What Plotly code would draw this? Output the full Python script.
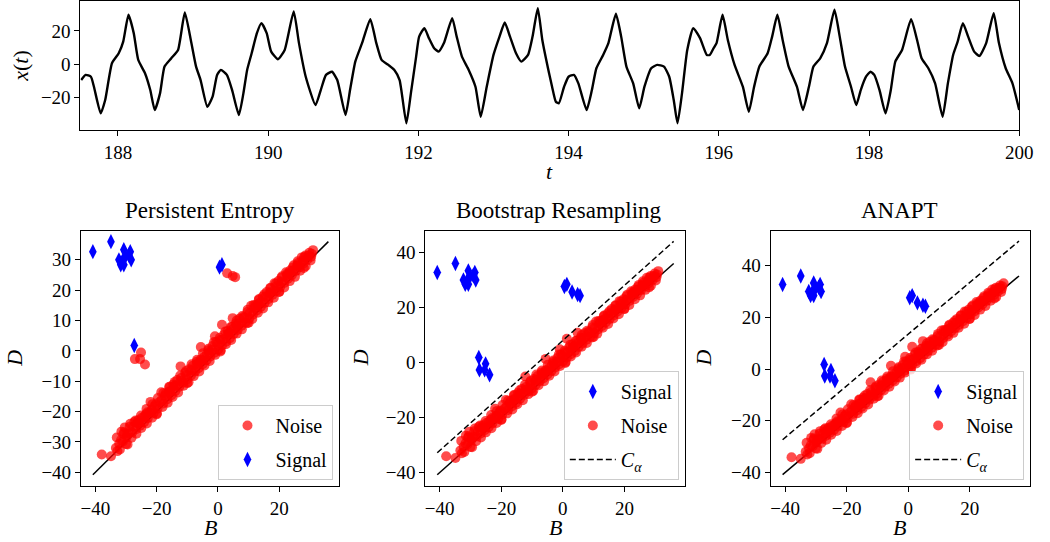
import plotly.graph_objects as go

# ---------------- data ----------------
t_vals = [187.51, 187.57, 187.64, 187.68, 187.77, 187.83, 187.92, 188.01, 188.07, 188.14,
          188.21, 188.27, 188.36, 188.43, 188.49, 188.56, 188.62, 188.71, 188.80, 188.89,
          188.97, 189.04, 189.10, 189.19, 189.26, 189.32, 189.37, 189.45, 189.52, 189.61,
          189.67, 189.72, 189.78, 189.85, 189.91, 189.98, 190.04, 190.13, 190.22, 190.34,
          190.41, 190.50, 190.63, 190.70, 190.77, 190.85, 190.92, 191.03, 191.09, 191.16,
          191.25, 191.36, 191.44, 191.51, 191.60, 191.68, 191.75, 191.84, 191.90, 191.97,
          192.01, 192.08, 192.14, 192.21, 192.27, 192.34, 192.45, 192.51, 192.58, 192.67,
          192.76, 192.83, 192.91, 193.00, 193.08, 193.15, 193.22, 193.30, 193.37, 193.46,
          193.52, 193.59, 193.65, 193.74, 193.78, 193.83, 193.87, 193.94, 194.00, 194.07,
          194.13, 194.24, 194.31, 194.37, 194.46, 194.53, 194.63, 194.70, 194.77, 194.86,
          194.94, 195.01, 195.10, 195.18, 195.27, 195.34, 195.40, 195.45, 195.51, 195.58,
          195.66, 195.75, 195.84, 195.88, 195.93, 195.97, 196.05, 196.12, 196.21, 196.32,
          196.40, 196.47, 196.54, 196.65, 196.71, 196.78, 196.85, 196.93, 197.04, 197.12,
          197.20, 197.26, 197.35, 197.44, 197.54, 197.61, 197.68, 197.76, 197.83, 197.89,
          197.96, 198.02, 198.07, 198.14, 198.22, 198.29, 198.35, 198.44, 198.56, 198.64,
          198.70, 198.79, 198.88, 198.98, 199.05, 199.12, 199.18, 199.25, 199.32, 199.40,
          199.47, 199.56, 199.66, 199.73, 199.82, 199.91, 200.00]
x_vals = [-9.5, -6.4, -7.5, -13.5, -29.5, -21.5, 0.6, 6.6, 13.6, 29.7,
          18.7, 2.6, -5.4, -15.5, -27.5, -17.5, -1.4, 3.6, 8.6, 31.1,
          14.6, -1.4, -9.5, -25.5, -19.5, -6.4, -3.4, -6.4, -15.5, -30.5,
          -17.5, -3.4, 6.6, 18.7, 24.7, 18.7, 7.6, 3.0, 8.6, 31.7,
          12.7, -7.5, -24.5, -15.5, -6.4, -4.5, -9.5, -30.5, -15.5, 1.6,
          12.7, 27.1, 12.7, 2.6, -0.4, -3.4, -9.5, -35.5, -17.5, 4.6,
          16.6, 21.7, 15.7, 9.6, 7.6, 12.7, 27.7, 16.6, 4.6, -3.4,
          -13.5, -31.5, -13.5, 5.6, 16.6, 25.1, 16.6, 6.6, 1.6, 5.6,
          16.6, 33.7, 14.6, -5.4, -13.5, -22.5, -23.5, -13.5, -7.5, -6.4,
          -11.5, -27.5, -15.5, -2.4, 5.6, 12.7, 30.3, 16.6, -1.4, -11.5,
          -26.5, -13.5, -2.4, -0.4, -1.4, -7.5, -21.5, -35.5, -17.5, 8.6,
          21.7, 15.7, 5.6, 5.6, 9.6, 12.7, 29.7, 14.6, -0.4, -13.5,
          -28.5, -13.5, -1.4, 6.6, 16.6, 29.7, 14.6, -1.4, -13.5, -27.5,
          -13.5, -1.4, 3.6, 12.7, 32.7, 16.6, -1.4, -13.5, -24.5, -15.5,
          -7.5, -4.5, -6.4, -15.5, -29.5, -15.5, 1.6, 8.6, 27.1, 14.6,
          3.6, -2.4, -11.5, -31.5, -11.5, 5.6, 13.6, 24.7, 16.6, 7.6,
          5.0, 12.7, 30.7, 12.7, -2.4, -11.5, -27.5]

# signal points (blue diamonds in every panel)
sig_B = [-40.8, -34.9, -32.3, -31.7, -30.7, -30.7, -30.2, -29.1, -28.6, -28.3, -31.2, 0.5, 1.3, -27.3]
sig_D = [32.7, 36.0, 30.0, 28.4, 33.3, 28.4, 31.1, 31.6, 32.7, 30.0, 29.5, 27.6, 28.4, 1.8]
# outliers: noise for Persistent Entropy, signal for the two other methods
extra_B = [3.0, 4.8, 5.6, -27.1, -25.4, -25.1, -23.8]
extra_D = [25.6, 24.7, 24.3, -2.7, -2.7, -0.5, -4.5]
# noise band near the diagonal
noise_B = [-37.9, -34.9, -33.3, -32.8, -33.0, -32.2, -31.5, -31.0, -30.4, -29.8, -29.2, -28.6,
           -28.0, -27.3, -26.7, -26.0, -25.4, -24.8, -24.1, -23.5, -22.9, -22.0, -21.6, -21.0,
           -20.3, -19.7, -18.5, -18.4, -17.8, -17.1, -16.5, -15.8, -15.2, -14.6, -13.9, -13.3,
           -12.2, -12.6, -12.0, -11.4, -10.7, -10.1, -9.4, -8.8, -8.2, -7.5, -6.9, -6.3,
           -5.6, -5.6, -5.0, -4.4, -3.7, -3.1, -2.5, -1.8, -1.0, -1.2, -0.6, 0.1,
           0.7, 1.3, 1.3, 2.0, 2.6, 3.2, 3.9, 4.5, 4.8, 5.1, 5.8, 6.4,
           7.0, 7.7, 8.3, 8.9, 9.6, 10.2, 10.8, 11.4, 12.1, 12.7, 13.3, 14.0,
           14.6, 15.2, 15.9, 16.5, 17.1, 17.8, 18.4, 19.0, 19.7, 20.3, 20.9, 21.6,
           22.2, 22.8, 23.5, 24.1, 24.7, 25.4, 26.0, 26.6, 27.3, 27.9, 28.5, 29.2,
           29.8, 30.4, 31.0, 30.6, -29.5, -20.0, -10.0, 0.8, 10.0, 20.0, 28.0, -26.4,
           -16.0, -6.5, 3.5, 13.0, 23.0, -30.8, -23.0, -14.2, -3.0, 6.0, 16.8, 25.8,
           -32.0, -30.0, -28.2, -26.6, -25.0, -23.2, -21.5, -19.9, -18.1, -16.4, -14.8, -13.0,
           -11.2, -9.6, -7.9, -6.1, -4.4, -2.7, -0.9, 0.9, 2.6, 4.3, 6.1, 7.8,
           9.5, 11.2, 13.0, 14.7, 16.4, 18.2, 19.9, 21.6, 23.4, 25.1, 26.8, 28.6, 30.2,
           -31.6, -29.6, -27.6, -25.8, -24.0, -22.4, -20.7, -19.0, -17.3, -15.6, -13.9, -12.1,
           -10.4, -8.7, -7.0, -5.3, -3.6, -1.9, -0.2, 1.6, 3.3, 5.0, 6.8, 8.5,
           10.3, 12.0, 13.8, 15.5, 17.3, 19.0, 20.8, 22.5, 24.3, 26.0, 27.8, 29.5,
           -30.6, -28.8, -26.9, -25.1, -23.3, -21.4, -19.6, -17.8, -15.9, -14.1, -12.3, -10.4,
           -8.6, -6.8, -4.9, -3.1, -1.3, 0.6, 2.4, 4.2, 6.1, 7.9, 9.7, 11.6,
           13.4, 15.2, 17.1, 18.9, 20.7, 22.6, 24.4, 26.2, 28.1]
noise_D = [-34.1, -34.7, -32.0, -33.0, -28.5, -30.6, -26.6, -29.8, -25.2, -28.4, -27.1, -24.0,
           -26.9, -23.4, -25.8, -22.8, -24.6, -22.0, -23.5, -20.9, -22.2, -16.8, -19.4, -20.5,
           -17.6, -19.0, -13.6, -16.2, -17.3, -14.1, -15.9, -12.0, -14.6, -11.1, -13.2, -9.6,
           -5.1, -11.8, -8.9, -10.5, -7.2, -9.4, -6.0, -8.1, -4.9, -6.8, -3.6, -5.7,
           1.3, -2.8, -4.4, -1.9, -3.1, 0.2, -1.8, 1.6, 4.8, -0.6, 2.9, 0.5,
           3.6, 8.6, 1.8, 5.4, 3.0, 6.6, 4.2, 7.9, 10.8, 5.6, 9.0, 6.9,
           10.6, 8.3, 11.2, 9.4, 12.8, 10.7, 14.9, 12.0, 15.0, 13.3, 16.8, 14.6,
           17.9, 15.8, 19.4, 17.1, 20.8, 18.5, 22.3, 19.8, 23.0, 21.1, 24.6, 22.4,
           25.9, 23.8, 26.5, 25.0, 28.2, 26.3, 29.5, 27.6, 30.8, 28.8, 31.4, 30.1,
           32.3, 31.0, 33.2, 32.0, -30.8, -20.9, -10.6, -0.2, 9.3, 19.4, 27.3, -23.8,
           -13.4, -4.0, 5.9, 15.4, 25.4, -27.4, -20.2, -11.6, -0.4, 8.4, 19.1, 28.2,
           -32.5, -30.7, -28.6, -27.3, -25.4, -23.9, -22.0, -20.6, -18.5, -17.1, -15.2, -13.7,
           -11.5, -10.3, -8.3, -6.8, -4.8, -3.3, -1.3, 0.2, 2.2, 3.6, 5.7, 7.1,
           9.1, 10.5, 12.6, 14.0, 16.0, 17.5, 19.5, 20.9, 23.0, 24.4, 26.4, 27.9, 29.8,
           -29.4, -27.5, -25.0, -23.7, -21.6, -20.3, -18.2, -16.8, -14.8, -13.4, -11.3, -9.9,
           -7.9, -6.4, -4.5, -3.1, -1.0, 0.3, 2.3, 3.8, 5.6, 7.3, 9.0, 10.9,
           12.5, 14.3, 16.0, 17.9, 19.4, 21.3, 22.9, 24.8, 26.4, 28.1, 29.9, 31.4,
           -26.8, -25.0, -22.9, -21.3, -19.1, -17.6, -15.5, -13.9, -11.8, -10.2, -8.1, -6.6,
           -4.4, -2.9, -0.8, 0.7, 2.9, 4.3, 6.4, 7.9, 10.0, 11.5, 13.6, 15.1,
           17.1, 18.7, 20.6, 22.2, 24.1, 25.5, 27.5, 29.0, 30.9]

diag_B = [-40.8, 36.0]
offset_boot = 8.0
offset_anapt = 13.5

titles = ["Persistent Entropy", "Bootstrap Resampling", "ANAPT"]

# ---------------- figure ----------------
W, H = 1050, 542
FONT = "Liberation Serif"
RED = "rgba(255,0,0,0.7)"
BLUE = "#0000ff"


def fx(px):
    return px / W


def fy(py):
    return 1 - py / H


fig = go.Figure()

fig.add_trace(go.Scatter(x=t_vals, y=x_vals, mode="lines",
                         line=dict(color="black", width=2.4, shape="spline", smoothing=0.5),
                         showlegend=False, xaxis="x", yaxis="y"))

noise_marker = dict(symbol="circle", size=10, color=RED, line=dict(width=0))
sig_marker = dict(symbol="diamond-tall", size=11, color=BLUE, line=dict(width=0))

# Panel 1 : Persistent Entropy
fig.add_trace(go.Scatter(x=diag_B, y=diag_B, mode="lines", line=dict(color="black", width=1.5),
                         showlegend=False, xaxis="x2", yaxis="y2"))
fig.add_trace(go.Scatter(x=noise_B + extra_B, y=noise_D + extra_D, mode="markers", marker=noise_marker,
                         name="Noise", legend="legend", legendgroup="n1", xaxis="x2", yaxis="y2"))
fig.add_trace(go.Scatter(x=sig_B, y=sig_D, mode="markers", marker=sig_marker,
                         name="Signal", legend="legend", legendgroup="s1", xaxis="x2", yaxis="y2"))

# Panels 2 and 3
for k, off, lg in [(3, offset_boot, "legend2"), (4, offset_anapt, "legend3")]:
    xa, ya = f"x{k}", f"y{k}"
    fig.add_trace(go.Scatter(x=diag_B, y=diag_B, mode="lines", line=dict(color="black", width=1.5),
                             showlegend=False, xaxis=xa, yaxis=ya))
    fig.add_trace(go.Scatter(x=sig_B + extra_B, y=sig_D + extra_D, mode="markers", marker=sig_marker,
                             name="Signal", legend=lg, legendgroup=f"s{k}", xaxis=xa, yaxis=ya))
    fig.add_trace(go.Scatter(x=noise_B, y=noise_D, mode="markers", marker=noise_marker,
                             name="Noise", legend=lg, legendgroup=f"n{k}", xaxis=xa, yaxis=ya))
    fig.add_trace(go.Scatter(x=diag_B, y=[b + off for b in diag_B], mode="lines",
                             line=dict(color="black", width=1.5, dash="6px,3px"),
                             name="<i>C</i><sub><i>α</i></sub>", legend=lg, legendgroup=f"c{k}",
                             xaxis=xa, yaxis=ya))

axis_common = dict(showgrid=False, zeroline=False, showline=True, mirror=True, linecolor="black",
                   linewidth=1, ticks="outside", ticklen=5, tickwidth=1, tickcolor="black",
                   tickfont=dict(family=FONT, size=19, color="black"))

panel_y = [fy(486), fy(230.7)]
layout = dict(
    width=W, height=H, autosize=False, margin=dict(l=0, r=0, t=0, b=0),
    paper_bgcolor="white", plot_bgcolor="white",
    xaxis=dict(axis_common, domain=[fx(81.5), fx(1033)], range=[187.5, 200], anchor="y",
               tickvals=[188, 190, 192, 194, 196, 198, 200]),
    yaxis=dict(axis_common, domain=[fy(130), fy(1)], range=[-39.5, 38.0], anchor="x",
               tickvals=[-20, 0, 20]),
    xaxis2=dict(axis_common, domain=[fx(82), fx(344)], range=[-44.7, 39.6], anchor="y2",
                tickvals=[-40, -20, 0, 20]),
    yaxis2=dict(axis_common, domain=panel_y, range=[-44.5, 39.6], anchor="x2",
                tickvals=[-40, -30, -20, -10, 0, 10, 20, 30]),
    xaxis3=dict(axis_common, domain=[fx(431), fx(694)], range=[-44.7, 39.6], anchor="y3",
                tickvals=[-40, -20, 0, 20]),
    yaxis3=dict(axis_common, domain=panel_y, range=[-44.9, 47.9], anchor="x3",
                tickvals=[-40, -20, 0, 20, 40]),
    xaxis4=dict(axis_common, domain=[fx(781), fx(1044)], range=[-44.7, 39.6], anchor="y4",
                tickvals=[-40, -20, 0, 20]),
    yaxis4=dict(axis_common, domain=panel_y, range=[-45.2, 53.5], anchor="x4",
                tickvals=[-40, -20, 0, 20, 40]),
)

leg_common = dict(bgcolor="rgba(255,255,255,0.8)", bordercolor="#cccccc", borderwidth=1,
                  font=dict(family=FONT, size=20, color="black"), xanchor="right", yanchor="bottom",
                  xref="paper", yref="paper", itemwidth=46, traceorder="grouped", tracegroupgap=5)
layout["legend"] = dict(leg_common, x=fx(338), y=fy(480))
layout["legend2"] = dict(leg_common, x=fx(688), y=fy(480))
layout["legend3"] = dict(leg_common, x=fx(1038), y=fy(480))

fig.update_layout(**layout)

ann = []
tfont = dict(family=FONT, size=23, color="black")
lfont = dict(family=FONT, size=22, color="black")
for title, cx in zip(titles, [213, 567, 912]):
    ann.append(dict(text=title, x=fx(cx), y=fy(211), xref="paper", yref="paper", showarrow=False,
                    xanchor="center", yanchor="middle", font=tfont))
for cx in [213, 563, 912]:
    ann.append(dict(text="<i>B</i>", x=fx(cx), y=fy(527), xref="paper", yref="paper", showarrow=False,
                    xanchor="center", yanchor="middle", font=lfont))
for cx in [14, 365, 713]:
    ann.append(dict(text="<i>D</i>", x=fx(cx), y=fy(358), xref="paper", yref="paper", showarrow=False,
                    xanchor="center", yanchor="middle", textangle=-90, font=lfont))
ann.append(dict(text="<i>x</i>(<i>t</i>)", x=fx(20), y=fy(66), xref="paper", yref="paper",
                showarrow=False, xanchor="center", yanchor="middle", textangle=-90, font=lfont))
ann.append(dict(text="<i>t</i>", x=fx(557), y=fy(172), xref="paper", yref="paper",
                showarrow=False, xanchor="center", yanchor="middle", font=lfont))
fig.update_layout(annotations=ann)

fig.write_html("out.html")
